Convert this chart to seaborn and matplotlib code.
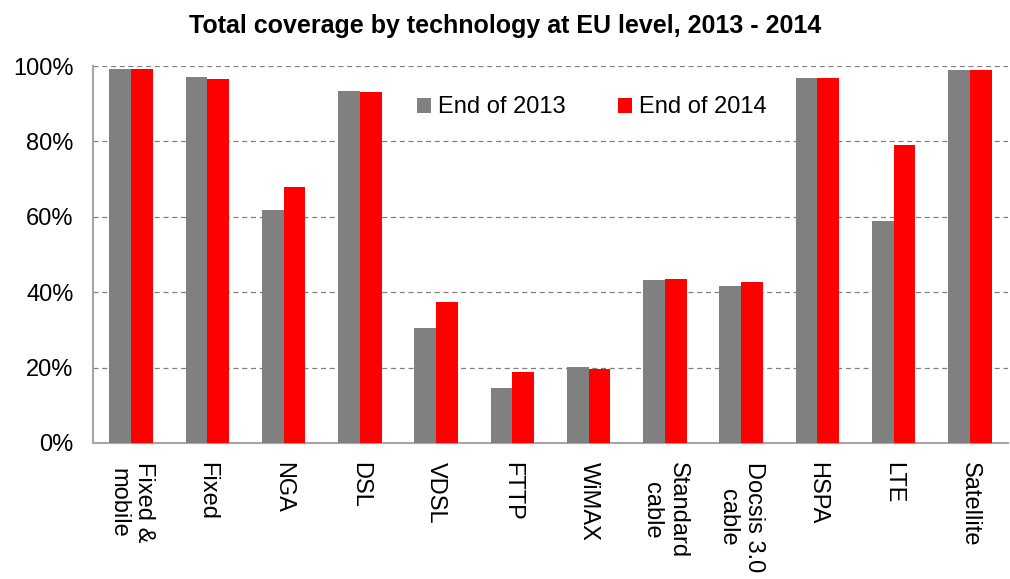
import pandas as pd
import matplotlib
matplotlib.use("Agg")
import matplotlib.pyplot as plt
import seaborn as sns
from matplotlib.ticker import PercentFormatter

# Data (coverage, %)
technologies = ["Fixed &\nmobile", "Fixed", "NGA", "DSL", "VDSL", "FTTP", "WiMAX",
                "Standard\ncable", "Docsis 3.0\ncable", "HSPA", "LTE", "Satellite"]
end_2013 = [99.2, 97.0, 61.8, 93.4, 30.6, 14.5, 20.1, 43.1, 41.7, 96.9, 59.0, 98.9]
end_2014 = [99.2, 96.6, 67.9, 93.2, 37.5, 18.9, 19.6, 43.6, 42.6, 96.9, 79.0, 98.9]
series = ["End of 2013", "End of 2014"]
colors = ["#808080", "#FF0000"]

df = pd.DataFrame({
    "technology": technologies * 2,
    "period": [series[0]] * len(technologies) + [series[1]] * len(technologies),
    "coverage": end_2013 + end_2014,
})

sns.set_theme(style="white", rc={"text.color": "black", "xtick.color": "black",
                                 "ytick.color": "black"})
plt.rcParams['font.family'] = ['Liberation Sans', 'DejaVu Sans']

fig, ax = plt.subplots(figsize=(10.1, 5.79), dpi=100)
fig.subplots_adjust(left=0.092, right=0.998, top=0.886, bottom=0.235)

sns.barplot(data=df, x="technology", y="coverage", hue="period",
            palette=colors, width=0.57, saturation=1, linewidth=0,
            ax=ax, zorder=3)

ax.set_ylim(0, 100)
ax.set_yticks([0, 20, 40, 60, 80, 100])
ax.yaxis.set_major_formatter(PercentFormatter(decimals=0))
ax.grid(axis="y", linestyle=(0, (4, 3)), color="#808080", linewidth=0.9, zorder=0)
ax.set_axisbelow(True)

ax.set_xlabel("")
ax.set_ylabel("")
ax.tick_params(axis="y", labelsize=17, length=0, pad=14, labelcolor="black")
ax.tick_params(axis="x", labelsize=17, length=0, pad=14, labelcolor="black")
for lbl in ax.get_xticklabels():
    lbl.set_rotation(270)
    lbl.set_ha("center")
    lbl.set_va("top")
    lbl.set_multialignment("center")

for side in ["top", "right"]:
    ax.spines[side].set_visible(False)
for side in ["left", "bottom"]:
    ax.spines[side].set_color("#A6A6A6")
    ax.spines[side].set_linewidth(1.5)

leg = ax.legend(ncol=2, frameon=False, loc="center", bbox_to_anchor=(0.545, 0.89),
                fontsize=17, handlelength=0.6, handleheight=0.6, handletextpad=0.3,
                columnspacing=2.2)
for txt in leg.get_texts():
    txt.set_color("black")

fig.suptitle("Total coverage by technology at EU level, 2013 - 2014",
             fontsize=18, fontweight="bold", color="black", x=0.5, y=0.975)

plt.savefig("out.png", dpi=100)
